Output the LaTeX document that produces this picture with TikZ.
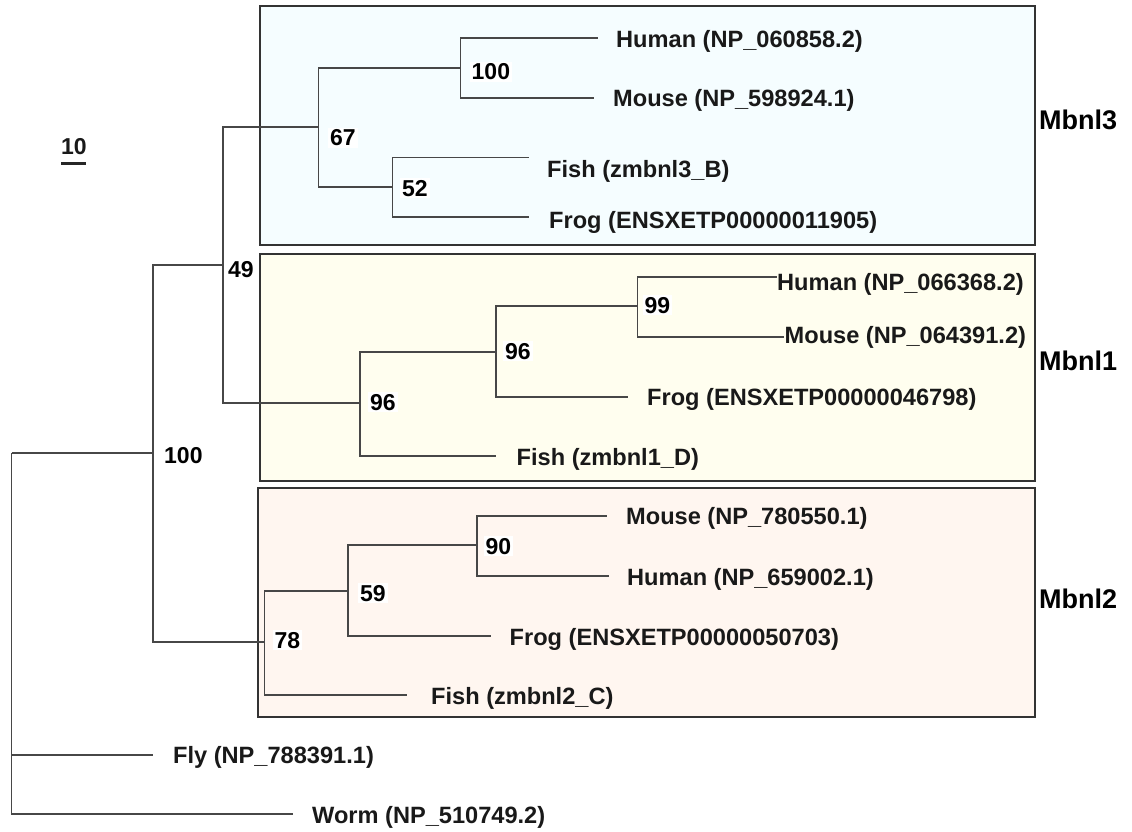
\documentclass[tikz,border=0pt]{standalone}
\usepackage{fontspec}
\setmainfont{Liberation Sans}
\begin{document}
\begin{tikzpicture}[x=1pt,y=-1pt,
  br/.style={draw=black!72,line width=1.3pt},
  clade/.style={draw=black!80,line width=1.6pt},
  taxon/.style={anchor=base west,inner sep=0pt,font=\fontsize{23.6}{26}\bfseries\selectfont,text=black!90},
  boot/.style={anchor=base west,inner xsep=2pt,inner ysep=2pt,fill=white,font=\fontsize{23}{26}\bfseries\selectfont},
  cladelab/.style={anchor=base west,inner sep=0pt,font=\fontsize{27}{30}\bfseries\selectfont}]
\useasboundingbox (0,0) rectangle (1132,832);
\fill[white] (0,0) rectangle (1132,832);
% clade boxes
\filldraw[clade,fill={rgb,255:red,245;green,253;blue,255}] (260,6) rectangle (1035,245);
\filldraw[clade,fill={rgb,255:red,255;green,254;blue,239}] (260,254) rectangle (1035,481);
\filldraw[clade,fill={rgb,255:red,255;green,246;blue,240}] (258,488) rectangle (1035,717);
% internal nodes
\coordinate (root) at (11.7,453);
\coordinate (n100) at (153,453);
\coordinate (n49) at (223,265);
\coordinate (n67) at (318.5,127);
\coordinate (n100b) at (460.5,68);
\coordinate (n52) at (392.5,187);
\coordinate (n96a) at (360,403);
\coordinate (n96b) at (496,352);
\coordinate (n99) at (637.5,306);
\coordinate (n78) at (264.5,642);
\coordinate (n59) at (348,591);
\coordinate (n90) at (477,545);
% leaves
\coordinate (human3) at (598,38);
\coordinate (mouse3) at (594,98);
\coordinate (fish3) at (529,157.5);
\coordinate (frog3) at (529,217);
\coordinate (human1) at (776.5,277);
\coordinate (mouse1) at (784,337);
\coordinate (frog1) at (628,397);
\coordinate (fish1) at (496,456);
\coordinate (mouse2) at (607,516);
\coordinate (human2) at (609,576);
\coordinate (frog2) at (491,636);
\coordinate (fish2) at (407,695);
\coordinate (fly) at (153,755);
\coordinate (worm) at (293,814);
% branches
\draw[br] (root) |- (n100);
\draw[br] (root) |- (fly);
\draw[br] (root) |- (worm);
\draw[br] (n100) |- (n49);
\draw[br] (n100) |- (n78);
\draw[br] (n49) |- (n67);
\draw[br] (n49) |- (n96a);
\draw[br] (n67) |- (n100b);
\draw[br] (n67) |- (n52);
\draw[br] (n100b) |- (human3);
\draw[br] (n100b) |- (mouse3);
\draw[br] (n52) |- (fish3);
\draw[br] (n52) |- (frog3);
\draw[br] (n96a) |- (n96b);
\draw[br] (n96a) |- (fish1);
\draw[br] (n96b) |- (n99);
\draw[br] (n96b) |- (frog1);
\draw[br] (n99) |- (human1);
\draw[br] (n99) |- (mouse1);
\draw[br] (n78) |- (n59);
\draw[br] (n78) |- (fish2);
\draw[br] (n59) |- (n90);
\draw[br] (n59) |- (frog2);
\draw[br] (n90) |- (mouse2);
\draw[br] (n90) |- (human2);
% bootstrap values
\node[boot] (b100b) at (469.5,80) {100};
\node[boot] (b67) at (328,146) {67};
\node[boot] (b52) at (400,196) {52};
\node[boot] (b49) at (226,277) {49};
\node[boot] (b100) at (162,463) {100};
\node[boot] (b96a) at (368,410) {96};
\node[boot] (b96b) at (503,359) {96};
\node[boot] (b99) at (642.5,313) {99};
\node[boot] (b90) at (483.5,554) {90};
\node[boot] (b59) at (358,601) {59};
\node[boot] (b78) at (272.5,648) {78};
% taxon labels
\node[taxon] (lhuman3) at (616,48) {Human (NP\_060858.2)};
\node[taxon] (lmouse3) at (613,107) {Mouse (NP\_598924.1)};
\node[taxon] (lfish3) at (547,177) {Fish (zmbnl3\_B)};
\node[taxon] (lfrog3) at (549,228) {Frog (ENSXETP00000011905)};
\node[taxon] (lhuman1) at (777,290) {Human (NP\_066368.2)};
\node[taxon] (lmouse1) at (784.5,343) {Mouse (NP\_064391.2)};
\node[taxon] (lfrog1) at (647,405) {Frog (ENSXETP00000046798)};
\node[taxon] (lfish1) at (516.5,465) {Fish (zmbnl1\_D)};
\node[taxon] (lmouse2) at (626,524) {Mouse (NP\_780550.1)};
\node[taxon] (lhuman2) at (627,585) {Human (NP\_659002.1)};
\node[taxon] (lfrog2) at (509.5,645) {Frog (ENSXETP00000050703)};
\node[taxon] (lfish2) at (431,704) {Fish (zmbnl2\_C)};
\node[taxon] (lfly) at (173,763) {Fly (NP\_788391.1)};
\node[taxon] (lworm) at (312,823) {Worm (NP\_510749.2)};
% clade labels
\node[cladelab] (c3) at (1039,130) {Mbnl3};
\node[cladelab] (c1) at (1039,370) {Mbnl1};
\node[cladelab] (c2) at (1039,608) {Mbnl2};
% scale bar
\node[taxon,font=\fontsize{23}{26}\bfseries\selectfont] (scale) at (61,154) {10};
\coordinate (sa) at (61,163.5);
\coordinate (sb) at (86,163.5);
\draw[line width=2.6pt,black!85] (sa) -- (sb);
\end{tikzpicture}
\end{document}
